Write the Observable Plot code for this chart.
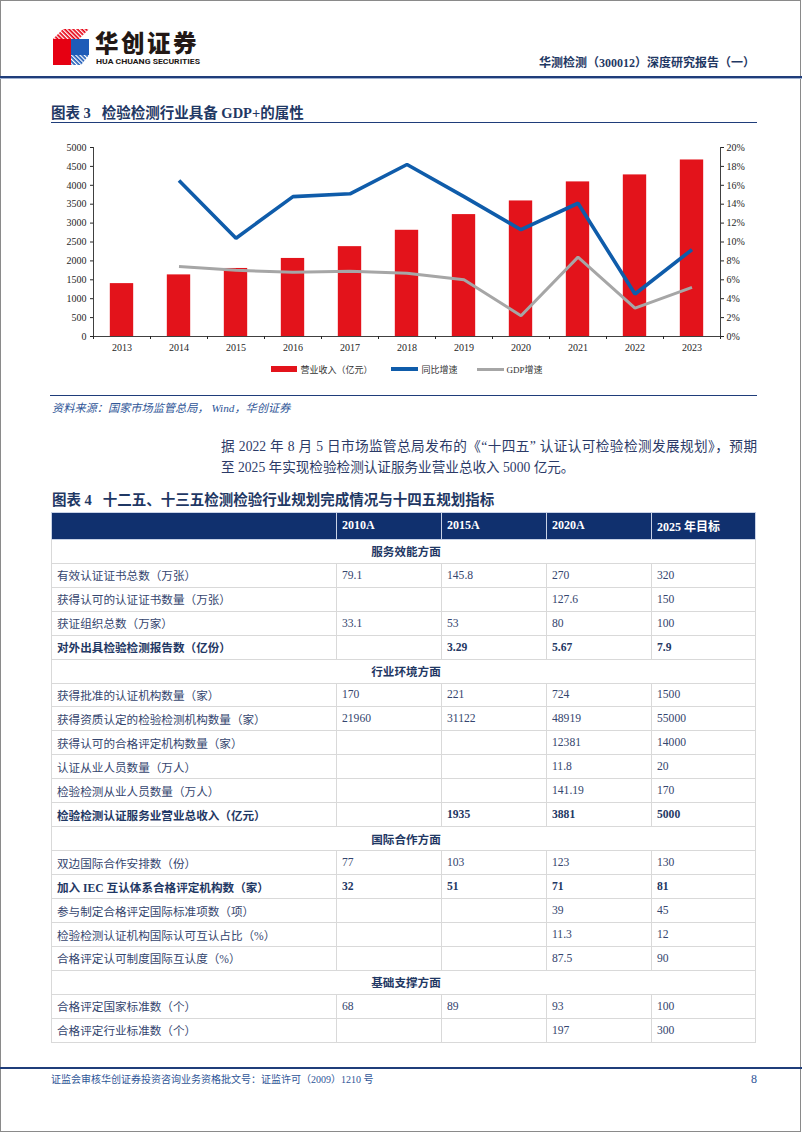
<!DOCTYPE html>
<html>
<head>
<meta charset="utf-8">
<script src="https://cdn.jsdelivr.net/npm/d3@7"></script>
<script src="https://cdn.jsdelivr.net/npm/@observablehq/plot@0.6"></script>
<style>
  html, body { margin: 0; padding: 0; background: #fff; }
  body { width: 802px; height: 1133px; position: relative; overflow: hidden;
         font-family: "Liberation Serif", "Noto Sans CJK SC", serif; }
  .abs { position: absolute; }
  .navy { color: #1F3864; }
  #legend { position: absolute; left: 0; width: 814px; top: 362px; height: 14px;
            display: flex; justify-content: center; align-items: center; gap: 19px;
            font-size: 9px; color: #333; }
  #legend .item { display: flex; align-items: center; gap: 3px; }
  #tbl { position: absolute; left: 51px; top: 512px; width: 704px; height: 531px;
         border-collapse: collapse; table-layout: fixed; font-size: 11.6px; color: #34456e; }
  #tbl td { border: 1.6px solid #d9d9d9; padding: 0 0 0 5px; white-space: nowrap; overflow: hidden; }
  #tbl tr.head td { background: #10306E; color: #fff; font-weight: bold; font-size: 12px; border-color: #c8d2e6; }
  #tbl tr.sec td { text-align: center; font-weight: bold; color: #1F3864; }
  #tbl tr.bold td { font-weight: bold; color: #1F3864; }
</style>
</head>
<body>
<script>
// ---------------- chart data ----------------
const years      = [2013, 2014, 2015, 2016, 2017, 2018, 2019, 2020, 2021, 2022, 2023];
const revenue    = [1399, 1630, 1800, 2065, 2377, 2810, 3225, 3586, 4090, 4275, 4670];
const yoyGrowth  = [null, 16.5, 10.4, 14.8, 15.1, 18.2, 14.8, 11.3, 14.1, 4.5, 9.2];
const gdpGrowth  = [null, 7.4, 7.0, 6.8, 6.9, 6.7, 6.0, 2.2, 8.4, 3.0, 5.2];
const leftTicks  = [0, 500, 1000, 1500, 2000, 2500, 3000, 3500, 4000, 4500, 5000];
const rightTicks = [0, 2, 4, 6, 8, 10, 12, 14, 16, 18, 20];
const seriesNames  = ["营业收入（亿元）", "同比增速", "GDP增速"];
const seriesColors = ["#E3131B", "#0F5CAA", "#A6A6A6"];

// ---------------- table data ----------------
const tableColumns = ["2010A", "2015A", "2020A", "2025 年目标"];
const tableRows = [
  ["sec", "服务效能方面"],
  ["row", "有效认证证书总数（万张）", "79.1", "145.8", "270", "320"],
  ["row", "获得认可的认证证书数量（万张）", "", "", "127.6", "150"],
  ["row", "获证组织总数（万家）", "33.1", "53", "80", "100"],
  ["bold", "对外出具检验检测报告数（亿份）", "", "3.29", "5.67", "7.9"],
  ["sec", "行业环境方面"],
  ["row", "获得批准的认证机构数量（家）", "170", "221", "724", "1500"],
  ["row", "获得资质认定的检验检测机构数量（家）", "21960", "31122", "48919", "55000"],
  ["row", "获得认可的合格评定机构数量（家）", "", "", "12381", "14000"],
  ["row", "认证从业人员数量（万人）", "", "", "11.8", "20"],
  ["row", "检验检测从业人员数量（万人）", "", "", "141.19", "170"],
  ["bold", "检验检测认证服务业营业总收入（亿元）", "", "1935", "3881", "5000"],
  ["sec", "国际合作方面"],
  ["row", "双边国际合作安排数（份）", "77", "103", "123", "130"],
  ["bold", "加入 IEC 互认体系合格评定机构数（家）", "32", "51", "71", "81"],
  ["row", "参与制定合格评定国际标准项数（项）", "", "", "39", "45"],
  ["row", "检验检测认证机构国际认可互认占比（%）", "", "", "11.3", "12"],
  ["row", "合格评定认可制度国际互认度（%）", "", "", "87.5", "90"],
  ["sec", "基础支撑方面"],
  ["row", "合格评定国家标准数（个）", "68", "89", "93", "100"],
  ["row", "合格评定行业标准数（个）", "", "", "197", "300"]
];
</script>

<!-- page frame -->
<div class="abs" style="left:0;top:0;width:801px;height:1132px;border:1px solid #8a8a8a;box-sizing:border-box;"></div>

<!-- logo -->
<svg class="abs" style="left:52px;top:28px" width="40" height="40" viewBox="0 0 40 40">
  <defs>
    <pattern id="stR" patternUnits="userSpaceOnUse" width="3" height="3" patternTransform="rotate(45)">
      <rect width="3" height="1.7" fill="#E60012"/>
    </pattern>
    <pattern id="stB" patternUnits="userSpaceOnUse" width="3" height="3" patternTransform="rotate(45)">
      <rect width="3" height="1.7" fill="#1E5BB8"/>
    </pattern>
  </defs>
  <polygon points="1,11 11,1 37,1 27,11" fill="url(#stR)"/>
  <rect x="1" y="11" width="18" height="26" fill="#E60012"/>
  <rect x="19" y="11" width="18" height="16" fill="#1E5BB8"/>
  <polygon points="19,27 37,27 29,37 19,37" fill="url(#stB)"/>
</svg>
<div class="abs" style="left:95px;top:27px;font-family:'Noto Sans CJK SC';font-weight:900;font-size:23.5px;line-height:30px;letter-spacing:2.5px;color:#231815;">华创证券</div>
<svg class="abs" style="left:96px;top:57px" width="106" height="9">
  <text x="0" y="7.3" textLength="104" lengthAdjust="spacingAndGlyphs" font-family="Roboto, 'Open Sans', sans-serif" font-weight="700" font-size="7.6" fill="#231815">HUA CHUANG SECURITIES</text>
</svg>
<div class="abs navy" style="right:47px;top:55px;font-size:12px;line-height:16px;font-weight:bold;white-space:nowrap;">华测检测（300012）深度研究报告（一）</div>
<div class="abs" style="left:0;top:76px;width:802px;height:2px;background:#1F3D7A;"></div>
<div class="abs" style="left:0;top:78px;width:802px;height:1px;background:#9fb0d0;"></div>

<!-- figure 3 title -->
<div class="abs navy" style="left:51px;top:104px;font-size:14.5px;line-height:18px;font-weight:bold;white-space:nowrap;">图表 3&nbsp;&nbsp;&nbsp;检验检测行业具备 GDP+的属性</div>
<div class="abs" style="left:51px;top:122px;width:706px;height:1px;background:#1F3D7A;"></div>

<div id="chart" class="abs" style="left:0;top:130px;"></div>
<div id="legend"></div>

<div class="abs" style="left:50px;top:395px;width:707px;height:1px;background:#1F3D7A;"></div>
<div class="abs" style="left:52px;top:400px;font-size:11.2px;line-height:16px;font-style:italic;color:#2E5597;white-space:nowrap;">资料来源：国家市场监管总局， Wind，华创证券</div>

<!-- paragraph -->
<div class="abs" style="left:221px;top:436px;width:536px;font-size:13.6px;line-height:21px;color:#2B3A67;">
  <div style="text-align:justify;text-align-last:justify;">据 2022 年 8 月 5 日市场监管总局发布的《“十四五” 认证认可检验检测发展规划》，预期</div>
  <div>至 2025 年实现检验检测认证服务业营业总收入 5000 亿元。</div>
</div>

<!-- figure 4 title -->
<div class="abs navy" style="left:52px;top:491px;font-size:14.5px;line-height:18px;font-weight:bold;white-space:nowrap;">图表 4&nbsp;&nbsp;&nbsp;十二五、十三五检测检验行业规划完成情况与十四五规划指标</div>
<table id="tbl">
  <colgroup><col style="width:285px"><col style="width:105px"><col style="width:105px"><col style="width:105px"><col style="width:104px"></colgroup>
  <tbody></tbody>
</table>

<!-- footer -->
<div class="abs" style="left:0;top:1067px;width:802px;height:2px;background:#1F3D7A;"></div>
<div class="abs" style="left:51px;top:1073px;font-size:10px;line-height:14px;color:#2E5597;white-space:nowrap;">证监会审核华创证券投资咨询业务资格批文号：证监许可（2009）1210 号</div>
<div class="abs" style="left:751px;top:1072px;font-size:12px;line-height:15px;color:#2E5597;">8</div>

<script>
// ---------------- chart ----------------
const factor = leftTicks[leftTicks.length - 1] / rightTicks[rightTicks.length - 1];
const data = years.map((year, i) => ({year, revenue: revenue[i], yoy: yoyGrowth[i], gdp: gdpGrowth[i]}));
const xDomain = [years[0] - 0.5, years[years.length - 1] + 0.5];
const boundaries = [xDomain[0], ...years.map(y => y + 0.5)];
const halfBar = 0.205;

const chart = Plot.plot({
  width: 802,
  height: 230,
  marginLeft: 93,
  marginRight: 82,
  marginTop: 17,
  marginBottom: 24,
  style: {fontFamily: "'Liberation Serif', serif", fontSize: "10px", color: "#262626", background: "transparent", overflow: "visible"},
  x: {type: "linear", domain: xDomain, axis: null},
  y: {domain: [leftTicks[0], leftTicks[leftTicks.length - 1]], axis: null},
  marks: [
    Plot.rectY(data, {x1: d => d.year - halfBar, x2: d => d.year + halfBar, y: "revenue", fill: seriesColors[0]}),
    Plot.line(data.filter(d => d.gdp != null), {x: "year", y: d => d.gdp * factor, stroke: seriesColors[2], strokeWidth: 3, strokeLinejoin: "miter", strokeLinecap: "butt"}),
    Plot.line(data.filter(d => d.yoy != null), {x: "year", y: d => d.yoy * factor, stroke: seriesColors[1], strokeWidth: 3.6, strokeLinejoin: "miter", strokeLinecap: "butt"}),
    Plot.ruleY([leftTicks[0]], {stroke: "#404040", strokeWidth: 1}),
    Plot.ruleX(xDomain, {stroke: "#404040", strokeWidth: 1}),
    Plot.axisY(leftTicks, {anchor: "left", tickSize: 3, tickPadding: 4, tickFormat: d => String(d), label: null}),
    Plot.axisY(rightTicks.map(p => p * factor), {anchor: "right", tickSize: 3, tickPadding: 3, tickFormat: d => `${Math.round(d / factor)}%`, label: null}),
    Plot.axisX(boundaries, {tickSize: 3, tickFormat: () => "", label: null}),
    Plot.axisX(years, {tickSize: 0, tickPadding: 7, tickFormat: d => String(d), label: null})
  ]
});
document.getElementById("chart").appendChild(chart);

// legend
const legend = document.getElementById("legend");
const swatchStyles = [
  "width:26px;height:6px;",
  "width:27px;height:3.5px;",
  "width:27px;height:3px;"
];
seriesNames.forEach((name, i) => {
  const item = document.createElement("div");
  item.className = "item";
  const sw = document.createElement("span");
  sw.style.cssText = swatchStyles[i] + "display:inline-block;background:" + seriesColors[i] + ";";
  const t = document.createElement("span");
  t.textContent = name;
  item.appendChild(sw);
  item.appendChild(t);
  legend.appendChild(item);
});

// ---------------- table ----------------
const tbody = document.querySelector("#tbl tbody");
const head = document.createElement("tr");
head.className = "head";
["", ...tableColumns].forEach(c => {
  const td = document.createElement("td");
  td.textContent = c;
  head.appendChild(td);
});
tbody.appendChild(head);
tableRows.forEach(r => {
  const tr = document.createElement("tr");
  if (r[0] === "sec") {
    tr.className = "sec";
    const td = document.createElement("td");
    td.colSpan = 5;
    td.textContent = r[1];
    tr.appendChild(td);
  } else {
    if (r[0] === "bold") tr.className = "bold";
    r.slice(1).forEach(v => {
      const td = document.createElement("td");
      td.textContent = v;
      tr.appendChild(td);
    });
  }
  tbody.appendChild(tr);
});
</script>
</body>
</html>
